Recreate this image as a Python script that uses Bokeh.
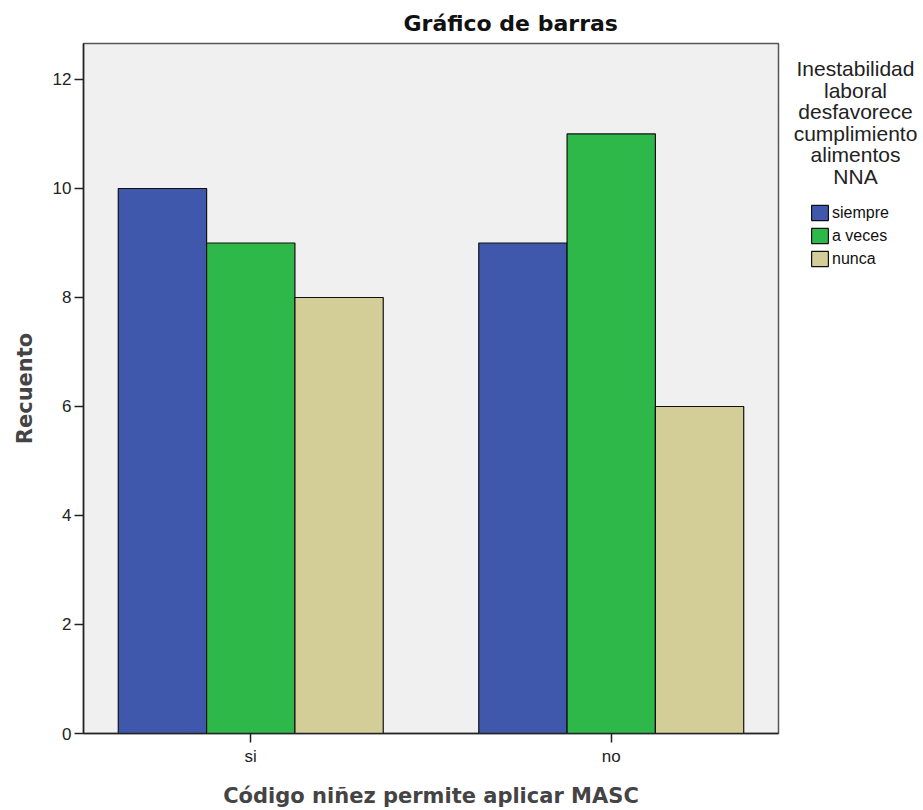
from bokeh.plotting import figure
from bokeh.layouts import row
from bokeh.models import (ColumnDataSource, FactorRange, Range1d, Legend, LegendItem,
                          Label, FixedTicker)
from bokeh.transform import dodge
from bokeh.embed import file_html
from bokeh.resources import INLINE

# ---- data ----
categories = ["si", "no"]
series_names = ["siempre", "a veces", "nunca"]
siempre = [10, 9]
a_veces = [9, 11]
nunca = [8, 6]
y_ticks = [0, 2, 4, 6, 8, 10, 12]
legend_title_lines = ["Inestabilidad", "laboral", "desfavorece", "cumplimiento",
                      "alimentos", "NNA"]

colors = ["#3F58AB", "#2FB84A", "#D3CE98"]

source = ColumnDataSource(dict(cat=categories, siempre=siempre, a_veces=a_veces, nunca=nunca))

p = figure(
    x_range=FactorRange(factors=categories, range_padding=-0.036, range_padding_units="absolute"),
    y_range=Range1d(0, 12.66),
    width=780, height=810,
    output_backend="svg", toolbar_location=None,
    min_border_left=83, min_border_right=2, min_border_top=43, min_border_bottom=77,
)

bw = 0.245
cols = ["siempre", "a_veces", "nunca"]
offsets = [-bw, 0.0, bw]
for col, off, c in zip(cols, offsets, colors):
    p.vbar(x=dodge("cat", off, range=p.x_range), top=col, width=bw, source=source,
           fill_color=c, line_color="#111111", line_width=1.2)

# frame / background
p.background_fill_color = "#F0F0F0"
p.border_fill_color = "white"
p.outline_line_color = "#555555"
p.outline_line_width = 1.5
p.xgrid.visible = False
p.ygrid.visible = False

# title
p.title.text = "Gráfico de barras"
p.title.text_font = "DejaVu Sans"
p.title.text_font_style = "bold"
p.title.text_font_size = "22px"
p.title.align = "left"
p.title.offset = 320
p.title.standoff = 16
p.title.text_color = "#111111"

# y axis
ya = p.yaxis[0]
ya.ticker = FixedTicker(ticks=y_ticks)
ya.axis_label = "Recuento"
ya.axis_label_text_font = "DejaVu Sans"
ya.axis_label_text_font_style = "bold"
ya.axis_label_text_font_size = "21px"
ya.axis_label_standoff = 13
ya.major_label_text_font = "Liberation Sans"
ya.major_label_text_font_size = "17px"
ya.major_label_text_color = "#222222"
ya.major_label_standoff = 3
ya.major_tick_out = 9
ya.major_tick_in = 0
ya.minor_tick_out = 0
ya.minor_tick_in = 0
ya.axis_line_color = "#222222"
ya.axis_line_width = 1.5
ya.major_tick_line_color = "#222222"
ya.major_tick_line_width = 1.5

# x axis
xa = p.xaxis[0]
xa.axis_label = "Código niñez permite aplicar MASC"
xa.axis_label_text_font = "DejaVu Sans"
xa.axis_label_text_font_style = "bold"
xa.axis_label_text_font_size = "21px"
xa.axis_label_standoff = 15
xa.major_label_text_font = "Liberation Sans"
xa.major_label_text_font_size = "17px"
xa.major_label_text_color = "#222222"
xa.major_label_standoff = 4
xa.major_tick_out = 9
xa.major_tick_in = 0
xa.axis_line_color = "#222222"
xa.axis_line_width = 1.5
xa.major_tick_line_color = "#222222"
xa.major_tick_line_width = 1.5

# ---- legend panel (separate canvas to the right of the chart) ----
p2 = figure(width=143, height=810, x_range=FactorRange(factors=categories),
            y_range=Range1d(0, 1),
            output_backend="svg", toolbar_location=None, title=None,
            x_axis_location=None, y_axis_location=None,
            min_border_left=0, min_border_right=0, min_border_top=43, min_border_bottom=77)
p2.outline_line_color = None
p2.xgrid.visible = False
p2.ygrid.visible = False
p2.background_fill_color = "white"
p2.border_fill_color = "white"

legend_renderers = []
for col, c in zip(cols, colors):
    r = p2.vbar(x="cat", top=col, width=0.1, source=source,
                fill_color=c, line_color="#111111", line_width=1.2)
    r.visible = False
    legend_renderers.append(r)
items = [LegendItem(label=n, renderers=[r]) for n, r in zip(series_names, legend_renderers)]
legend = Legend(items=items, location=(29, 465), orientation="vertical",
                glyph_width=21, glyph_height=19, label_height=16, label_standoff=2,
                spacing=4, padding=0, margin=0,
                border_line_color=None, background_fill_alpha=0,
                label_text_font="Liberation Sans", label_text_font_size="16px",
                label_text_color="#111111")
p2.add_layout(legend)

line_h = 21.6
for i, t in enumerate(legend_title_lines):
    p2.add_layout(Label(x=75, y=665 - i * line_h, x_units="screen", y_units="screen",
                        text=t, text_align="center", text_baseline="alphabetic",
                        text_font="Liberation Sans", text_font_size="21px",
                        text_color="#222222"))

layout = row(p, p2)
open("out.html", "w").write(file_html(layout, INLINE))
